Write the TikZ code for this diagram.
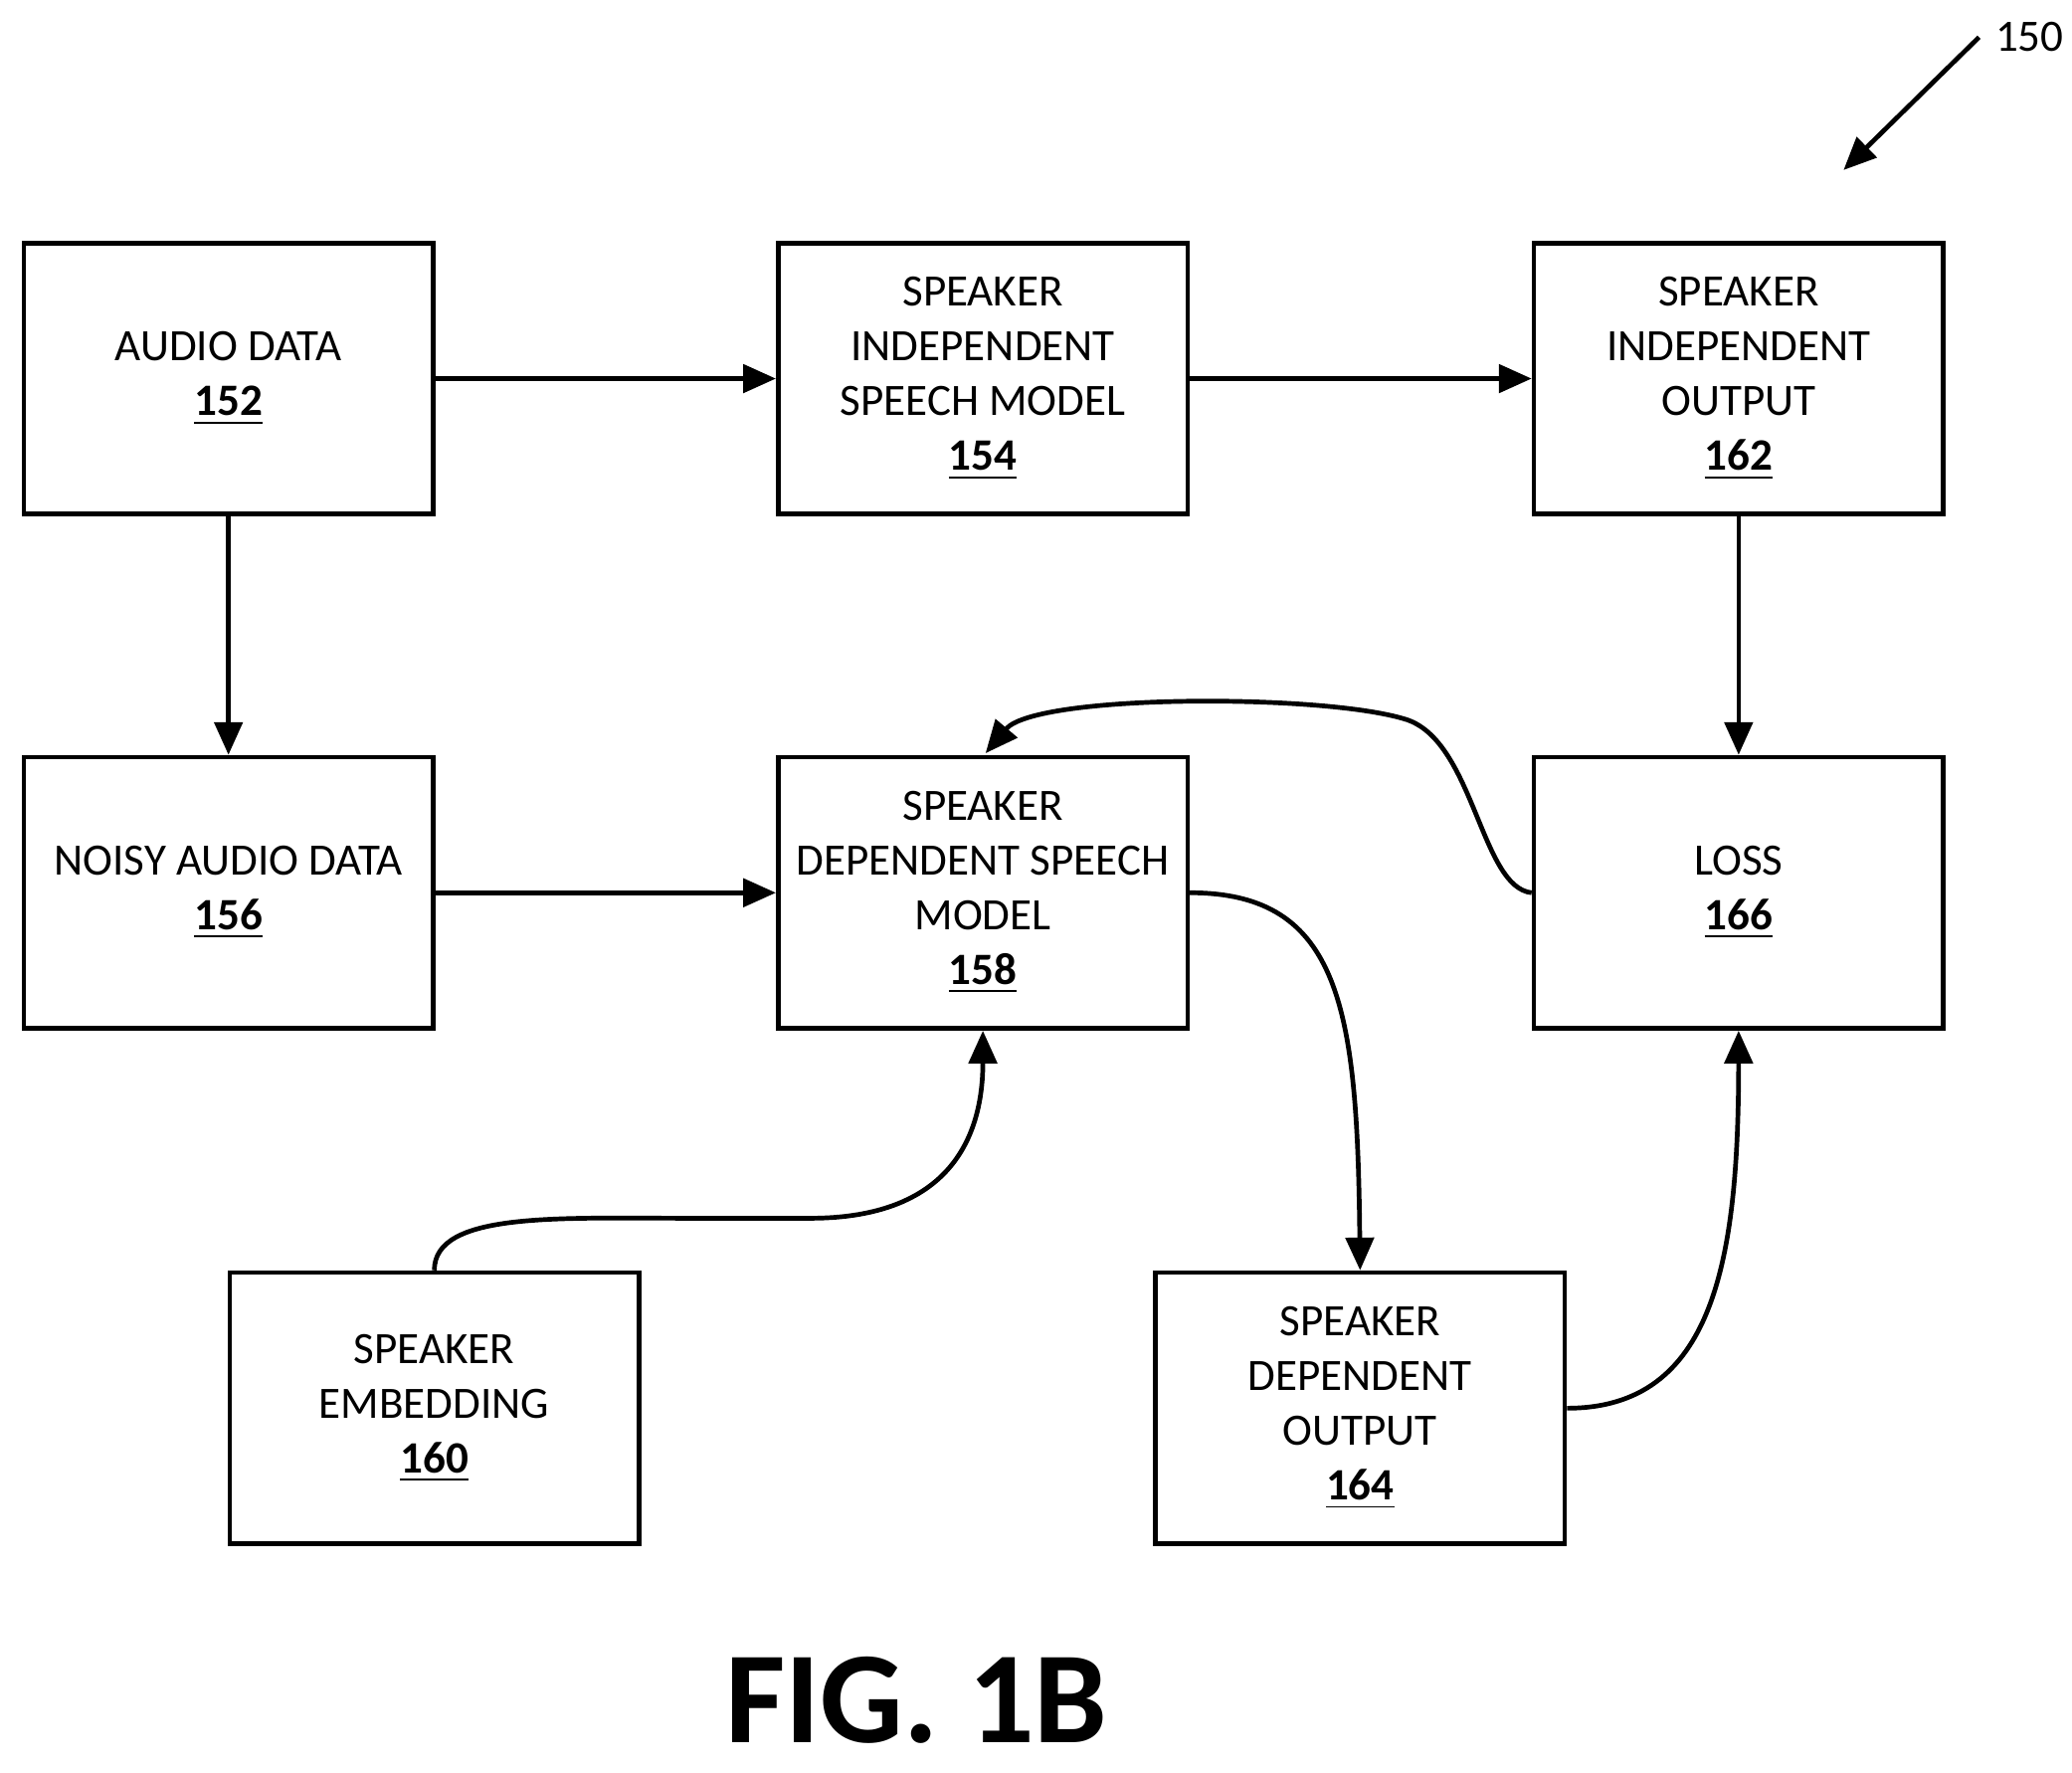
\documentclass[tikz,border=0pt]{standalone}
\usepackage{fontspec}
\setmainfont{Carlito}
\usetikzlibrary{arrows.meta}
\begin{document}
\begin{tikzpicture}[x=0.01cm,y=-0.01cm,
 box/.style={draw,line width=1pt,minimum width=3.08cm,minimum height=2.04cm,align=center,inner sep=0pt,font=\fontsize{9.6}{11.7}\selectfont},
 ar/.style={line width=1pt,-{Triangle[length=7pt,width=6pt]}}]
\useasboundingbox (0,0) rectangle (1560,1334);
\newcommand{\nm}[1]{\textbf{\underline{#1}}}
\node[box] (a) at (172,285) {AUDIO DATA\\\nm{152}};
\node[box] (b) at (740,285) {SPEAKER\\INDEPENDENT\\SPEECH MODEL\\\nm{154}};
\node[box] (c) at (1309,285) {SPEAKER\\INDEPENDENT\\OUTPUT\\\nm{162}};
\node[box] (d) at (172,672) {NOISY AUDIO DATA\\\nm{156}};
\node[box] (e) at (740,672) {SPEAKER\\DEPENDENT SPEECH\\MODEL\\\nm{158}};
\node[box] (f) at (1309,672) {LOSS\\\nm{166}};
\node[box] (g) at (327,1060) {SPEAKER\\EMBEDDING\\\nm{160}};
\node[box] (h) at (1024,1060) {SPEAKER\\DEPENDENT\\OUTPUT\\\nm{164}};
\draw[ar] (a) -- (b);
\draw[ar] (b) -- (c);
\draw[ar] (a) -- (d);
\draw[ar] (d) -- (e);
\draw[ar] (c) -- (f);
\draw[ar] (f.west) .. controls (1115,668) and (1110,560) .. (1060,542) .. controls (1000,522) and (780,522) .. (742,567);
\draw[ar] (e.east) .. controls (1010,672) and (1022,760) .. (h.north);
\draw[ar] (g.north) .. controls (327,912) and (420,917) .. (520,917) -- (610,917) .. controls (720,917) and (740,850) .. (e.south);
\draw[ar] (h.east) .. controls (1290,1060) and (1309,950) .. (f.south);
\coordinate (p) at (1490,28);
\coordinate (q) at (1388,128);
\draw[ar] (p) -- (q);
\node[font=\fontsize{9.6}{11.7}\selectfont] (l) at (1528,28) {150};
\node[font=\fontsize{28}{33}\bfseries\selectfont] (t) at (690,1280) {FIG. 1B};
\end{tikzpicture}
\end{document}
